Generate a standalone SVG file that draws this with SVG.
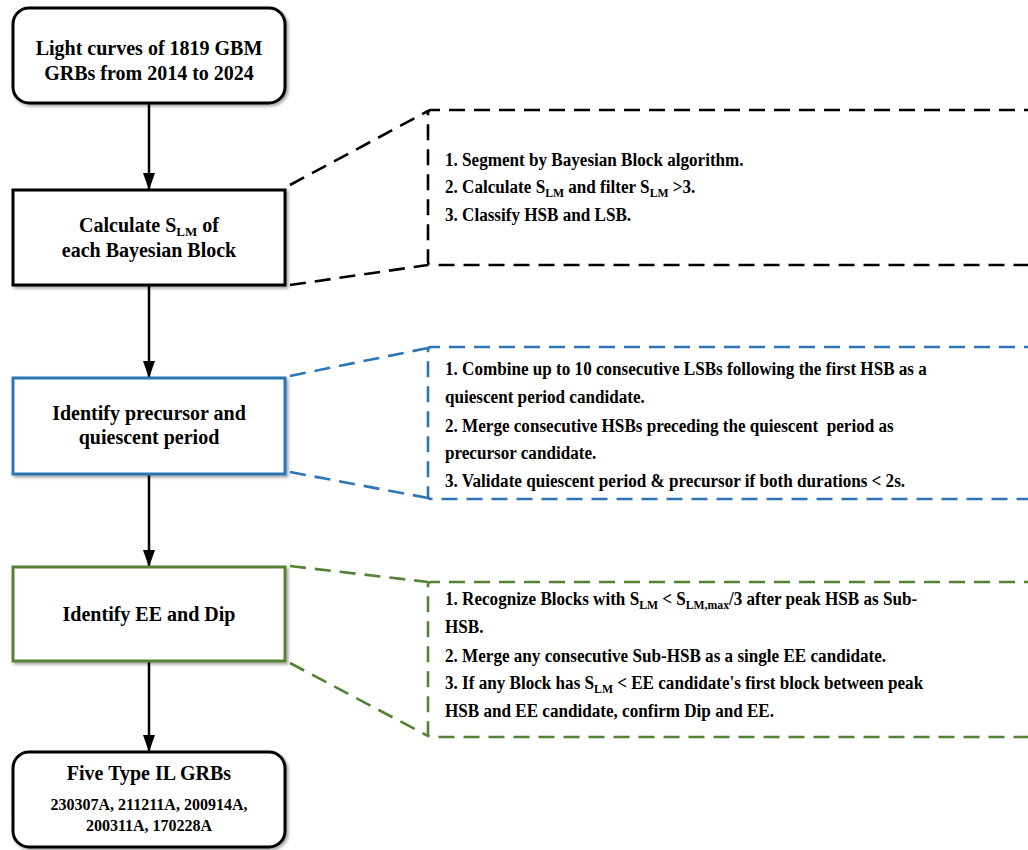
<svg xmlns="http://www.w3.org/2000/svg" width="1028" height="850" viewBox="0 0 1028 850">
<defs>
<style>
.node{fill:#fff;stroke-width:3;filter:url(#sh)}
.lt{font-family:"Liberation Serif","Times New Roman",serif;font-weight:bold;font-size:20px;fill:#000;text-anchor:middle}
.rt{font-family:"Liberation Serif","Times New Roman",serif;font-weight:bold;font-size:19px;fill:#000}
.sub{font-size:13px}
.dash{fill:none;stroke-width:2.6;stroke-dasharray:16 9}
.conn{stroke:#000;stroke-width:2.5;fill:none;marker-end:url(#ah)}
</style>
<filter id="sh" x="-10%" y="-10%" width="125%" height="130%">
<feDropShadow dx="2" dy="2" stdDeviation="1.5" flood-color="#000" flood-opacity="0.35"/>
</filter>
<marker id="ah" viewBox="0 0 17 12" refX="17" refY="6" markerWidth="17" markerHeight="12" markerUnits="userSpaceOnUse" orient="auto">
<path d="M0,0 L17,6 L0,12 z" fill="#000"/>
</marker>
</defs>
<rect width="1028" height="850" fill="#fff"/>

<g id="connectors">
<line class="conn" x1="149" y1="104" x2="149" y2="190"/>
<line class="conn" x1="149" y1="286" x2="149" y2="378"/>
<line class="conn" x1="149" y1="475" x2="149" y2="567"/>
<line class="conn" x1="149" y1="662" x2="149" y2="752"/>
</g>

<g id="node-lightcurves">
<rect class="node" x="13" y="8" width="272" height="95" rx="16" stroke="#000"/>
<text class="lt" x="149" y="55">Light curves of 1819 GBM</text>
<text class="lt" x="149" y="80">GRBs from 2014 to 2024</text>
</g>

<g id="node-calc">
<rect class="node" x="13" y="190" width="272" height="95" stroke="#000"/>
<text class="lt" x="149" y="232">Calculate S<tspan class="sub" dy="4">LM</tspan><tspan dy="-4"> of</tspan></text>
<text class="lt" x="149" y="257">each Bayesian Block</text>
</g>

<g id="detail-calc">
<path class="dash" stroke="#000" d="M290,185 L428,111"/>
<path class="dash" stroke="#000" d="M290,285 L428,265"/>
<path class="dash" stroke="#000" d="M1040,110 H431 Q428,110 428,113 V262 Q428,265 431,265 H1040"/>
<g transform="translate(445 0) scale(0.9 1)">
<text class="rt" x="0" y="166">1. Segment by Bayesian Block algorithm.</text>
<text class="rt" x="0" y="193">2. Calculate S<tspan class="sub" dy="4">LM</tspan><tspan dy="-4"> and filter S</tspan><tspan class="sub" dy="4">LM</tspan><tspan dy="-4"> &gt;3.</tspan></text>
<text class="rt" x="0" y="221">3. Classify HSB and LSB.</text>
</g>
</g>

<g id="node-precursor">
<rect class="node" x="13" y="378" width="272" height="96" stroke="#2E75B6"/>
<text class="lt" x="149" y="420">Identify precursor and</text>
<text class="lt" x="149" y="444">quiescent period</text>
</g>

<g id="detail-precursor">
<path class="dash" stroke="#2E75B6" d="M290,376 L428,348"/>
<path class="dash" stroke="#2E75B6" d="M290,472 L428,498"/>
<path class="dash" stroke="#2E75B6" d="M1040,347 H431 Q428,347 428,350 V496 Q428,499 431,499 H1040"/>
<g transform="translate(445 0) scale(0.9 1)">
<text class="rt" x="0" y="375">1. Combine up to 10 consecutive LSBs following the first HSB as a</text>
<text class="rt" x="0" y="403">quiescent period candidate.</text>
<text class="rt" x="0" y="432" xml:space="preserve">2. Merge consecutive HSBs preceding the quiescent  period as</text>
<text class="rt" x="0" y="459">precursor candidate.</text>
<text class="rt" x="0" y="487">3. Validate quiescent period &amp; precursor if both durations &lt; 2s.</text>
</g>
</g>

<g id="node-ee">
<rect class="node" x="13" y="567" width="272" height="94" stroke="#548235"/>
<text class="lt" x="149" y="621">Identify EE and Dip</text>
</g>

<g id="detail-ee">
<path class="dash" stroke="#548235" d="M290,566 L428,582"/>
<path class="dash" stroke="#548235" d="M290,663 L428,736"/>
<path class="dash" stroke="#548235" d="M1040,582 H431 Q428,582 428,585 V734 Q428,737 431,737 H1040"/>
<g transform="translate(445 0) scale(0.9 1)">
<text class="rt" x="0" y="605">1. Recognize Blocks with S<tspan class="sub" dy="4">LM</tspan><tspan dy="-4"> &lt; S</tspan><tspan class="sub" dy="4">LM,max</tspan><tspan dy="-4">/3 after peak HSB as Sub-</tspan></text>
<text class="rt" x="0" y="633">HSB.</text>
<text class="rt" x="0" y="662">2. Merge any consecutive Sub-HSB as a single EE candidate.</text>
<text class="rt" x="0" y="689">3. If any Block has S<tspan class="sub" dy="4">LM</tspan><tspan dy="-4"> &lt; EE candidate's first block between peak</tspan></text>
<text class="rt" x="0" y="717">HSB and EE candidate, confirm Dip and EE.</text>
</g>
</g>

<g id="node-result">
<rect class="node" x="13" y="752" width="272" height="95" rx="16" stroke="#000"/>
<text class="lt" x="149" y="780">Five Type IL GRBs</text>
<text class="lt" x="149" y="810" style="font-size:16px">230307A, 211211A, 200914A,</text>
<text class="lt" x="149" y="831" style="font-size:16px">200311A, 170228A</text>
</g>
</svg>
